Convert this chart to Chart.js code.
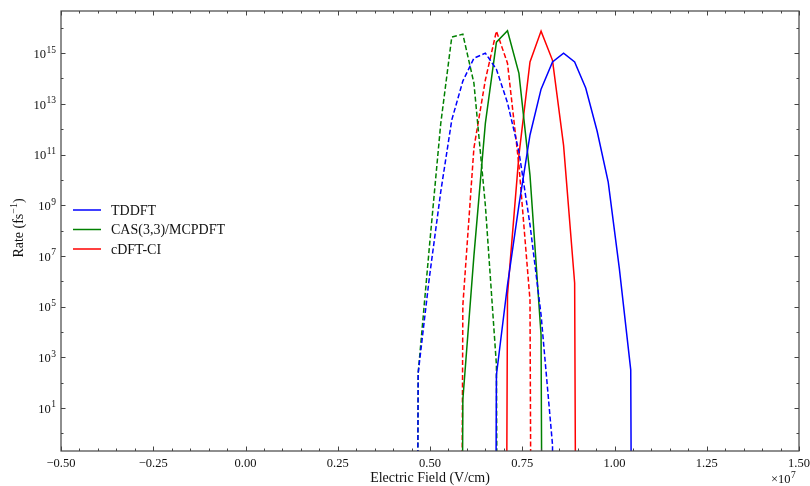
<!DOCTYPE html>
<html>
<head>
<meta charset="utf-8">
<script src="https://cdn.jsdelivr.net/npm/chart.js@4.4.0/dist/chart.umd.min.js"></script>
<style>
body{margin:0;background:#fff}
#wrap{width:810px;height:486px}
</style>
</head>
<body>
<div id="wrap"><canvas id="myChart" width="810" height="486"></canvas></div>
<script>
// electric field grid, V/cm
var field = [4.38e6, 4.68e6, 4.98e6, 5.29e6, 5.59e6, 5.89e6, 6.19e6, 6.50e6, 6.80e6, 7.10e6, 7.41e6,
             7.71e6, 8.01e6, 8.32e6, 8.62e6, 8.92e6, 9.22e6, 9.53e6, 9.83e6, 1.013e7, 1.044e7, 1.074e7];

// rates in fs^-1 (null = not computed, 1e-100 = rate drops to zero)
var tddft     = [null, null, null, null, null, null, null, 1e-100, 2.0e2, 7.1e5, 1.0e9, 5.9e11, 3.8e13, 4.5e14, 1.0e15, 4.5e14, 4.2e13, 8.3e11, 8.1e9, 3.3e6, 3.2e2, 1e-100];
var tddftDash = [1e-100, 2.4e2, 1.3e6, 3.3e9, 2.3e12, 7.9e13, 6.3e14, 1.0e15, 2.3e14, 1.1e13, 1.3e11, 1.7e8, 4.7e4, 0.35, 1e-100, null, null, null, null, null, null, null];
var cas       = [null, null, null, null, 1e-100, 21, 1.0e7, 1.7e12, 2.7e15, 7.6e15, 1.6e14, 1.5e10, 7.6e3, 1e-100, null, null, null, null, null, null, null, null];
var casDash   = [1e-100, 2.4e2, 2.0e7, 1.6e12, 4.3e15, 5.6e15, 6.6e13, 1.0e9, 5.0e2, 1e-100, null, null, null, null, null, null, null, null, null, null, null, null];
var cdft      = [null, null, null, null, null, null, null, null, 1e-100, 2.9e5, 9.5e10, 4.5e14, 7.4e15, 5.2e14, 2.3e11, 8.5e5, 1e-100, null, null, null, null, null];
var cdftDash  = [null, null, null, null, 1e-100, 1.1e5, 1.8e11, 8.7e13, 7.4e15, 4.0e14, 3.8e10, 1.8e5, 1e-100, null, null, null, null, null, null, null, null, null];

var xTicks = [-5e6, -2.5e6, 0, 2.5e6, 5e6, 7.5e6, 1e7, 1.25e7, 1.5e7];
var yLabelExps = [1, 3, 5, 7, 9, 11, 13, 15];

var serif = '"Liberation Serif", "Times New Roman", serif';

function pts(arr){
    var out = [];
    for (var i = 0; i < field.length; i++){
        if (arr[i] !== null) out.push({x: field[i], y: arr[i]});
    }
    return out;
}

function line(label, arr, color, dashed){
    return {
        label: label,
        data: pts(arr),
        borderColor: color,
        backgroundColor: color,
        borderWidth: 1.5,
        borderDash: dashed ? [5, 2.5] : [],
        pointRadius: 0,
        tension: 0,
        fill: false,
        clip: 0
    };
}

var decor = {
    id: 'decor',
    afterDraw: function(chart){
        var ctx = chart.ctx, a = chart.chartArea, xs = chart.scales.x, ys = chart.scales.y;
        ctx.save();
        ctx.strokeStyle = '#444';
        ctx.lineWidth = 1.2;
        ctx.strokeRect(a.left, a.top, a.right - a.left, a.bottom - a.top);

        // inward ticks on all four sides
        ctx.lineWidth = 1;
        ctx.beginPath();
        for (var v = -5e6; v <= 1.5e7; v += 5e5){
            var px = Math.round(xs.getPixelForValue(v)) + 0.5;
            var len = Math.abs(v % 2.5e6) < 1 ? 4.5 : 2.5;
            ctx.moveTo(px, a.bottom); ctx.lineTo(px, a.bottom - len);
            ctx.moveTo(px, a.top); ctx.lineTo(px, a.top + len);
        }
        for (var e = 0; e <= 16; e++){
            var py = Math.round(ys.getPixelForValue(Math.pow(10, e))) + 0.5;
            var l2 = e % 2 ? 4.5 : 2.5;
            ctx.moveTo(a.left, py); ctx.lineTo(a.left + l2, py);
            ctx.moveTo(a.right, py); ctx.lineTo(a.right - l2, py);
        }
        ctx.stroke();

        // y tick labels 10^n
        ctx.fillStyle = '#111';
        ctx.textBaseline = 'middle';
        yLabelExps.forEach(function(n){
            var y = ys.getPixelForValue(Math.pow(10, n));
            ctx.font = '9.5px ' + serif;
            var ew = ctx.measureText(String(n)).width;
            ctx.textAlign = 'left';
            ctx.fillText(String(n), 56 - ew, y - 3);
            ctx.font = '12.5px ' + serif;
            ctx.textAlign = 'right';
            ctx.fillText('10', 56 - ew - 0.5, y + 1.5);
        });

        // x multiplier
        ctx.textAlign = 'left';
        ctx.font = '12.5px ' + serif;
        ctx.fillText('\u00d710', 771, 480);
        var mw = ctx.measureText('\u00d710').width;
        ctx.font = '9.5px ' + serif;
        ctx.fillText('7', 771 + mw + 0.5, 475);

        // axis titles
        ctx.font = '14px ' + serif;
        ctx.textAlign = 'center';
        ctx.fillText('Electric Field (V/cm)', (a.left + a.right) / 2, 478);

        ctx.save();
        ctx.translate(19, (a.top + a.bottom) / 2 - 3);
        ctx.rotate(-Math.PI / 2);
        ctx.textAlign = 'left';
        var p1 = 'Rate (fs', sup = '\u22121', p2 = ')';
        ctx.font = '14px ' + serif;
        var w1 = ctx.measureText(p1).width, w3 = ctx.measureText(p2).width;
        ctx.font = '10px ' + serif;
        var w2 = ctx.measureText(sup).width;
        var x0 = -(w1 + w2 + w3) / 2;
        ctx.font = '14px ' + serif;
        ctx.fillText(p1, x0, 0);
        ctx.fillText(p2, x0 + w1 + w2, 0);
        ctx.font = '10px ' + serif;
        ctx.fillText(sup, x0 + w1, -5);
        ctx.restore();

        // legend
        var row = 0;
        ctx.font = '14px ' + serif;
        ctx.textAlign = 'left';
        chart.data.datasets.forEach(function(ds){
            if (!ds.label) return;
            var y = 210 + row * 19.5;
            ctx.strokeStyle = ds.borderColor;
            ctx.lineWidth = ds.borderWidth;
            ctx.setLineDash([]);
            ctx.beginPath();
            ctx.moveTo(73, y); ctx.lineTo(101, y);
            ctx.stroke();
            ctx.fillStyle = '#111';
            ctx.fillText(ds.label, 111, y + 1);
            row++;
        });
        ctx.restore();
    }
};

var ctx = document.getElementById('myChart').getContext('2d');
var myChart = new Chart(ctx, {
    type: 'line',
    data: {
        datasets: [
            line('TDDFT', tddft, '#0000ff', false),
            line('', tddftDash, '#0000ff', true),
            line('CAS(3,3)/MCPDFT', cas, '#008000', false),
            line('', casDash, '#008000', true),
            line('cDFT-CI', cdft, '#ff0000', false),
            line('', cdftDash, '#ff0000', true)
        ]
    },
    options: {
        responsive: false,
        animation: false,
        layout: {padding: {left: 0, right: 11, top: 11, bottom: 0}},
        plugins: {legend: {display: false}, tooltip: {enabled: false}},
        scales: {
            x: {
                type: 'linear',
                min: -5e6,
                max: 1.5e7,
                bounds: 'data',
                grid: {display: false},
                border: {display: false},
                afterBuildTicks: function(s){ s.ticks = xTicks.map(function(v){ return {value: v}; }); },
                afterFit: function(s){ s.height = 35; s.paddingLeft = 0; s.paddingRight = 0; },
                ticks: {
                    autoSkip: false,
                    maxRotation: 0,
                    padding: -3,
                    color: '#111',
                    font: {family: serif, size: 12.5},
                    callback: function(v){
                        var t = (Math.abs(v) / 1e7).toFixed(2);
                        return v < 0 ? '\u2212' + t : t;
                    }
                }
            },
            y: {
                type: 'logarithmic',
                min: 0.2,
                max: 4.6e16,
                bounds: 'data',
                grid: {display: false},
                border: {display: false},
                ticks: {display: false},
                afterFit: function(s){ s.width = 61; }
            }
        }
    },
    plugins: [decor]
});
</script>
</body>
</html>
